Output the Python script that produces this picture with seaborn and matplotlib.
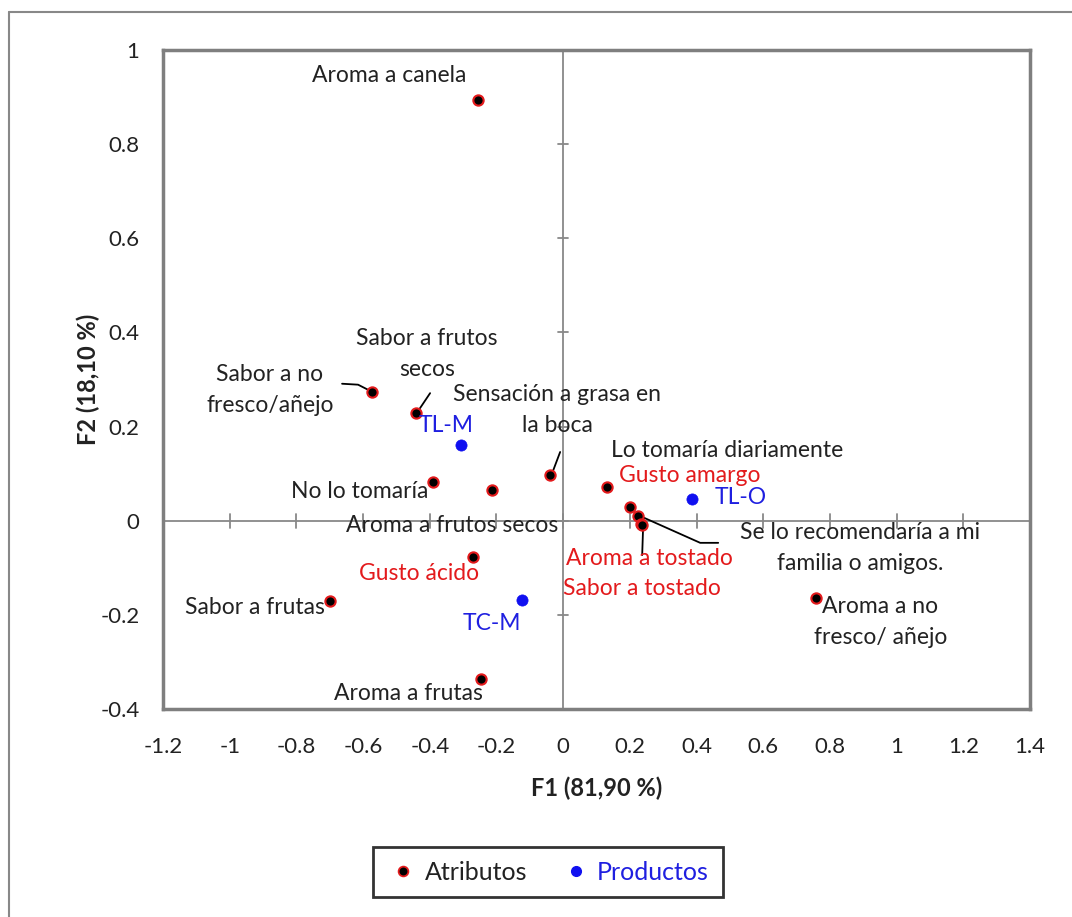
import matplotlib
matplotlib.use("Agg")
import matplotlib.pyplot as plt
import seaborn as sns
import pandas as pd
from matplotlib.lines import Line2D

# ---- data ----
attr_names = ["Aroma a canela", "Sabor a no fresco/añejo", "Sabor a frutos secos",
              "No lo tomaría", "Aroma a frutos secos", "Sensación a grasa en la boca",
              "Lo tomaría diariamente", "Gusto amargo", "Se lo recomendaría a mi familia o amigos.",
              "Aroma a tostado", "Sabor a tostado", "Gusto ácido", "Sabor a frutas",
              "Aroma a no fresco/ añejo", "Aroma a frutas"]
attr_f1 = [-0.255, -0.573, -0.441, -0.390, -0.213, -0.039, 0.132, 0.200, 0.225,
           0.234, 0.236, -0.270, -0.699, 0.759, -0.246]
attr_f2 = [0.894, 0.273, 0.229, 0.082, 0.065, 0.097, 0.072, 0.029, 0.010,
           -0.007, -0.010, -0.077, -0.171, -0.165, -0.336]

prod_names = ["TL-M", "TL-O", "TC-M"]
prod_f1 = [-0.306, 0.387, -0.123]
prod_f2 = [0.161, 0.047, -0.169]

x_ticks = [-1.2, -1, -0.8, -0.6, -0.4, -0.2, 0, 0.2, 0.4, 0.6, 0.8, 1, 1.2, 1.4]
y_ticks = [-0.4, -0.2, 0, 0.2, 0.4, 0.6, 0.8, 1]
x_label = "F1 (81,90 %)"
y_label = "F2 (18,10 %)"

# ---- label placement (text, x, y, color) ----
labels = [
    ("Aroma a canela", -0.522, 0.946, "#222222"),
    ("Sabor a no\nfresco/añejo", -0.879, 0.278, "#222222"),
    ("Sabor a frutos\nsecos", -0.408, 0.354, "#222222"),
    ("Sensación a grasa en\nla boca", -0.018, 0.235, "#222222"),
    ("Lo tomaría diariamente", 0.492, 0.150, "#222222"),
    ("Gusto amargo", 0.381, 0.095, "#e31a1c"),
    ("TL-M", -0.350, 0.203, "#1f1fe0"),
    ("TL-O", 0.531, 0.050, "#1f1fe0"),
    ("No lo tomaría", -0.609, 0.063, "#222222"),
    ("Aroma a frutos secos", -0.333, -0.011, "#222222"),
    ("Se lo recomendaría a mi\nfamilia o amigos.", 0.891, -0.058, "#222222"),
    ("Aroma a tostado", 0.258, -0.081, "#e31a1c"),
    ("Sabor a tostado", 0.237, -0.143, "#e31a1c"),
    ("Gusto ácido", -0.432, -0.113, "#e31a1c"),
    ("Sabor a frutas", -0.924, -0.185, "#222222"),
    ("TC-M", -0.213, -0.218, "#1f1fe0"),
    ("Aroma a no\nfresco/ añejo", 0.951, -0.215, "#222222"),
    ("Aroma a frutas", -0.465, -0.368, "#222222"),
]
leaders = [
    ([-0.663, -0.615, -0.579], [0.291, 0.289, 0.276]),
    ([-0.399, -0.435], [0.271, 0.233]),
    ([-0.009, -0.033], [0.146, 0.101]),
    ([0.237, 0.411, 0.465], [0.008, -0.047, -0.047]),
    ([0.240, 0.237], [-0.009, -0.073]),
]

sns.set_theme(style="white")
plt.rcParams["font.family"] = ["Lato", "DejaVu Sans"]

fig = plt.figure(figsize=(10.72, 9.17), dpi=100)
ax = fig.add_axes([163/1072, 1-709/917, (1030-163)/1072, (709-50)/917])

# outer border (top & left visible)
fig.add_artist(Line2D([9/1072, 9/1072], [0, 1-12/917], transform=fig.transFigure,
                      color="#888888", lw=1.5))
fig.add_artist(Line2D([9/1072, 1], [1-12/917, 1-12/917], transform=fig.transFigure,
                      color="#888888", lw=1.5))

ax.set_xlim(-1.2, 1.4)
ax.set_ylim(-0.4, 1.0)

# zero axes with tick crosses
ax.axhline(0, color="#888888", lw=1.3, zorder=1)
ax.axvline(0, color="#888888", lw=1.3, zorder=1)
for xt in x_ticks:
    ax.plot([xt, xt], [-0.015, 0.015], color="#888888", lw=1.3, zorder=1)
for yt in y_ticks:
    ax.plot([-0.016, 0.016], [yt, yt], color="#888888", lw=1.3, zorder=1)

df_a = pd.DataFrame({"F1": attr_f1, "F2": attr_f2, "grupo": "Atributos"})
df_p = pd.DataFrame({"F1": prod_f1, "F2": prod_f2, "grupo": "Productos"})
sns.scatterplot(data=df_a, x="F1", y="F2", ax=ax, color="black", edgecolor="#e31a1c",
                linewidth=1.5, s=55, zorder=3, legend=False)
sns.scatterplot(data=df_p, x="F1", y="F2", ax=ax, color="#1010f0", edgecolor="#1010f0",
                linewidth=0.5, s=65, zorder=3, legend=False)

line_step = 22.5  # points between lines of a wrapped label
for txt, lx, ly, c in labels:
    parts = txt.split("\n")
    n = len(parts)
    for i, p in enumerate(parts):
        off = ((n - 1) / 2 - i) * line_step
        ax.annotate(p, (lx, ly), xytext=(0, off), textcoords="offset points",
                    color=c, ha="center", va="center", fontsize=16.5, zorder=4)
for lx, ly in leaders:
    ax.plot(lx, ly, color="black", lw=1.3, zorder=2)

ax.set_xticks(x_ticks)
ax.set_yticks(y_ticks)
ax.set_xticklabels([f"{t:g}" for t in x_ticks], fontsize=16, color="#222222")
ax.set_yticklabels([f"{t:g}" for t in y_ticks], fontsize=16, color="#222222")
ax.tick_params(axis="x", length=0, pad=20)
ax.tick_params(axis="y", length=0, pad=17)
ax.set_xlabel(x_label, fontsize=17, fontweight="bold", color="#222222", labelpad=14)
ax.set_ylabel(y_label, fontsize=17, fontweight="bold", color="#222222", labelpad=0)
for sp in ax.spines.values():
    sp.set_color("#7f7f7f")
    sp.set_linewidth(2.5)

# legend
handles = [Line2D([], [], marker="o", ls="", markerfacecolor="black", markeredgecolor="#e31a1c",
                  markeredgewidth=1.3, markersize=7),
           Line2D([], [], marker="o", ls="", markerfacecolor="#1010f0", markeredgecolor="#1010f0",
                  markersize=7)]
leg = fig.legend(handles, ["Atributos", "Productos"], loc="center",
                 bbox_to_anchor=(548/1072, 1-872/917), ncol=2, fontsize=18,
                 frameon=True, fancybox=False, edgecolor="black", handletextpad=0.2,
                 columnspacing=1.3, borderpad=0.55, handlelength=1.3)
leg.get_frame().set_linewidth(2)
leg.get_texts()[0].set_color("#222222")
leg.get_texts()[1].set_color("#1f1fe0")

fig.savefig("out.png", dpi=100)
